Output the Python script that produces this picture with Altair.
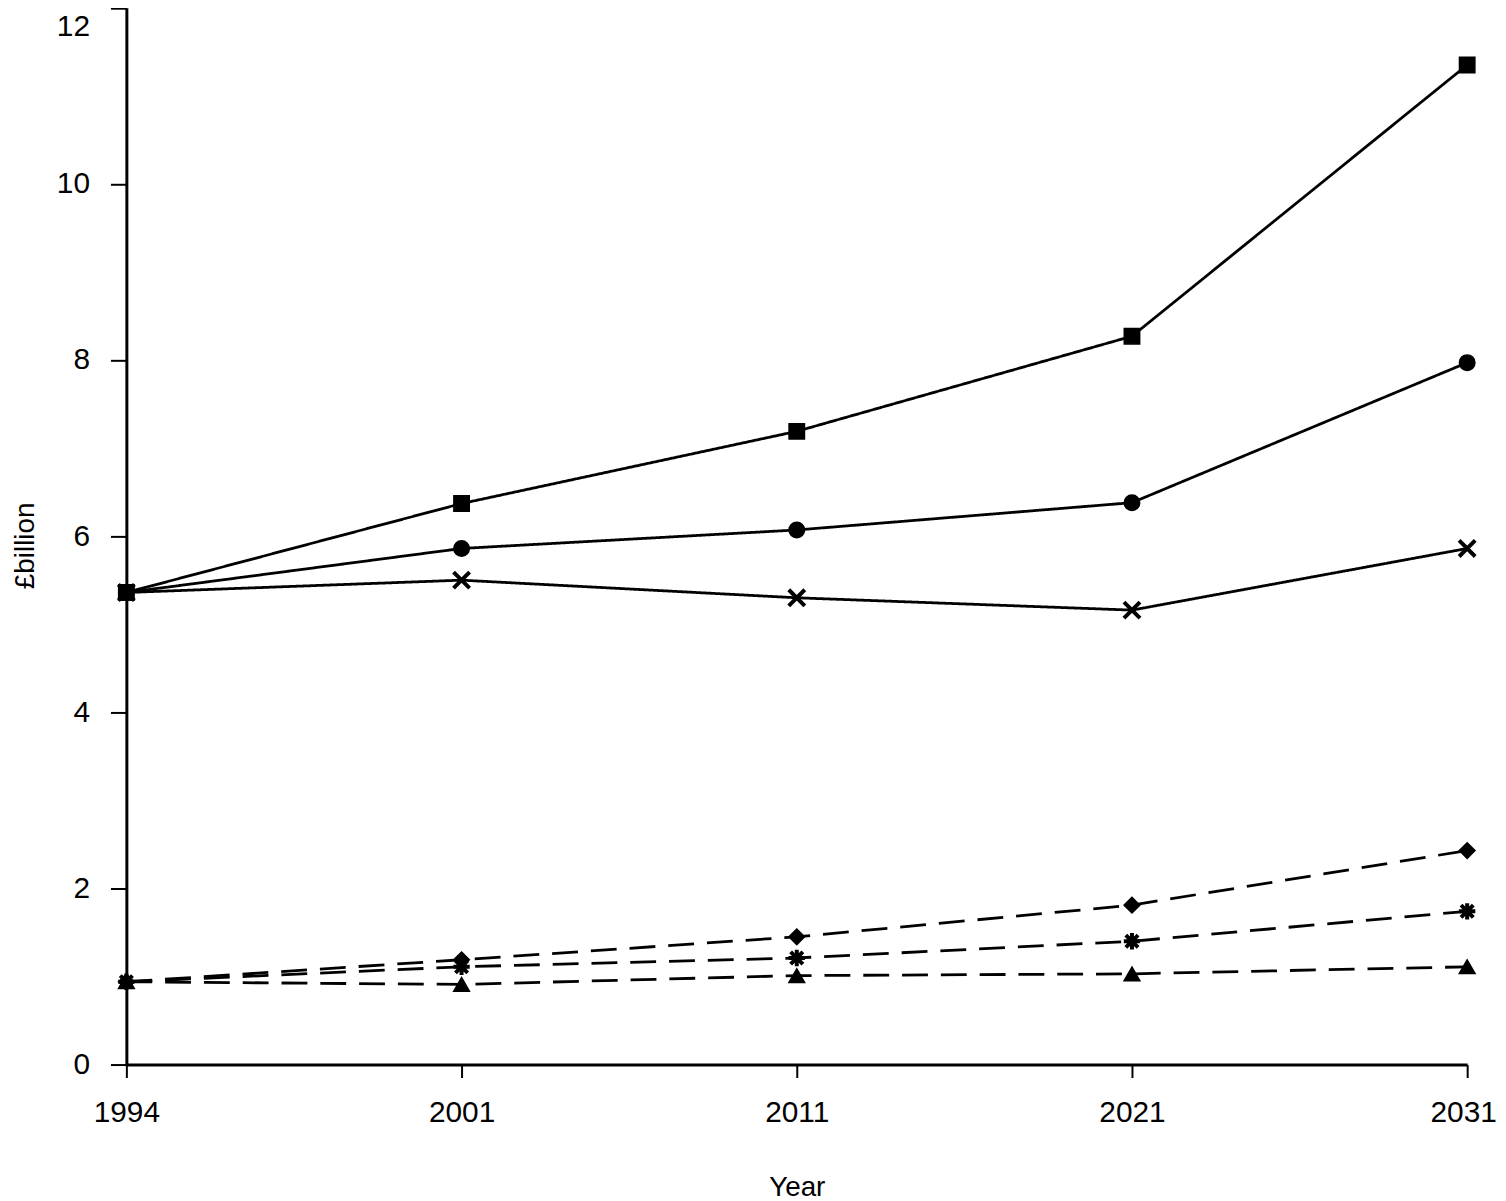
import altair as alt
import pandas as pd

years = ["1994", "2001", "2011", "2021", "2031"]
series_names = ["square", "circle", "cross", "diamond", "asterisk", "triangle"]
square = [5.36, 6.37, 7.19, 8.27, 11.35]
circle = [5.36, 5.86, 6.07, 6.38, 7.97]
cross = [5.36, 5.50, 5.30, 5.16, 5.86]
diamond = [0.94, 1.19, 1.45, 1.81, 2.43]
asterisk = [0.94, 1.11, 1.21, 1.40, 1.74]
triangle = [0.94, 0.91, 1.01, 1.03, 1.11]
dashed = ["solid", "solid", "solid", "dashed", "dashed", "dashed"]

values = [square, circle, cross, diamond, asterisk, triangle]
rows = []
for name, vals, d in zip(series_names, values, dashed):
    for y, v in zip(years, vals):
        rows.append({"year": y, "value": v, "series": name, "style": d})
df = pd.DataFrame(rows)

FONT = "Liberation Sans"

x = alt.X(
    "year:O",
    sort=years,
    scale=alt.Scale(type="point", padding=0),
    axis=alt.Axis(
        title="Year",
        labelAngle=0,
        labelFont=FONT,
        labelFontSize=30,
        labelColor="black",
        labelPadding=20,
        labelOffset={"condition": {"test": "datum.value == '2031'", "value": -4}, "value": 0},
        tickSize=13,
        tickWidth=2,
        tickColor="black",
        domainColor="black",
        domainWidth=3,
        titleFont=FONT,
        titleFontSize=28,
        titleFontWeight="normal",
        titleColor="black",
        titleY=124,
        titleBaseline="middle",
    ),
)
y = alt.Y(
    "value:Q",
    scale=alt.Scale(domain=[0, 12], range=[1059, -3.5], nice=False, zero=True),
    axis=alt.Axis(
        values=[0, 2, 4, 6, 8, 10, 12],
        grid=False,
        labelFont=FONT,
        labelFontSize=30,
        labelColor="black",
        labelPadding=21,
        labelBaseline={"condition": {"test": "datum.value == 12", "value": "top"}, "value": "middle"},
        labelOffset={"condition": {"test": "datum.value == 12", "value": 4}, "value": 0},
        tickSize=16,
        tickWidth=2,
        tickColor="black",
        domainColor="black",
        domainWidth=3,
        title="£billion",
        titleFont=FONT,
        titleFontSize=28,
        titleFontWeight="normal",
        titleColor="black",
        titleX=-101,
        titleY=537,
        titleAlign="center",
        titleBaseline="middle",
    ),
)

lines = alt.Chart(df).mark_line(color="black", strokeWidth=2.8).encode(
    x=x,
    y=y,
    detail="series:N",
    strokeDash=alt.StrokeDash(
        "style:N",
        scale=alt.Scale(domain=["solid", "dashed"], range=[[1, 0], [26, 13]]),
        legend=None,
    ),
)

filled_names = ["square", "circle", "diamond", "triangle"]
filled_shapes = ["square", "circle", "diamond", "triangle-up"]
filled_sizes = [240, 250, 320, 330]

stroked_names = ["cross", "asterisk"]
stroked_shapes = [
    "M-1,-1L1,1M-1,1L1,-1",
    "M-1,0L1,0M0,-1L0,1M-0.75,-0.75L0.75,0.75M-0.75,0.75L0.75,-0.75",
]
stroked_sizes = [260, 270]

filled_points = alt.Chart(df).transform_filter(
    alt.FieldOneOfPredicate(field="series", oneOf=filled_names)
).mark_point(
    fill="black", stroke="black", strokeWidth=1.5, opacity=1, fillOpacity=1
).encode(
    x=x,
    y=y,
    shape=alt.Shape("series:N", scale=alt.Scale(domain=filled_names, range=filled_shapes), legend=None),
    size=alt.Size("series:N", scale=alt.Scale(domain=filled_names, range=filled_sizes), legend=None),
)

stroked_points = alt.Chart(df).transform_filter(
    alt.FieldOneOfPredicate(field="series", oneOf=stroked_names)
).mark_point(
    fill="black", stroke="black", strokeWidth=4, opacity=1, fillOpacity=1
).encode(
    x=x,
    y=y,
    shape=alt.Shape("series:N", scale=alt.Scale(domain=stroked_names, range=stroked_shapes), legend=None),
    size=alt.Size("series:N", scale=alt.Scale(domain=stroked_names, range=stroked_sizes), legend=None),
)

chart = (
    alt.layer(lines, filled_points, stroked_points)
    .resolve_scale(shape="independent", size="independent")
    .properties(
        width=1348,
        height=1059,
        autosize=alt.AutoSizeParams(type="none"),
        padding={"left": 119, "top": 0, "right": 31, "bottom": 140},
    )
    .configure_view(stroke=None)
)

chart.save("out.html", embed_options={"renderer": "svg", "actions": False})
